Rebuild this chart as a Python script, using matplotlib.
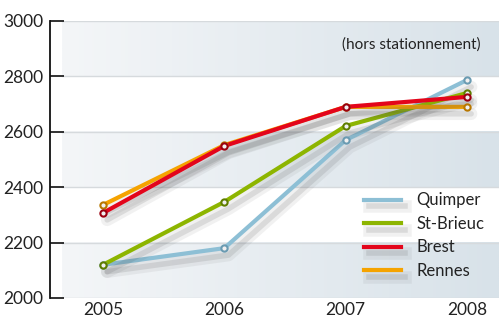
import matplotlib

matplotlib.use("Agg")
import matplotlib.pyplot as plt
import matplotlib.patheffects as pe
import numpy as np
from matplotlib.colors import LinearSegmentedColormap

years = [2005, 2006, 2007, 2008]
quimper = [2120, 2180, 2570, 2787]
st_brieuc = [2120, 2347, 2621, 2740]
brest = [2307, 2549, 2690, 2726]
rennes = [2336, 2552, 2690, 2690]
yticks = [2000, 2200, 2400, 2600, 2800, 3000]
note = "(hors stationnement)"

plt.rcParams["font.family"] = ["Lato", "DejaVu Sans"]

fig = plt.figure(figsize=(4.99, 3.22), dpi=100)
ax = fig.add_axes([50 / 499, 24 / 322, 449 / 499, 277 / 322])
ax.set_xlim(2004.563, 2008.264)
ax.set_ylim(2000, 3000)

# shaded bands with a soft left-to-right gradient
band_cmap = LinearSegmentedColormap.from_list("band", ["#f4f6f8", "#d8e2e9"])
grad = np.linspace(0, 1, 256).reshape(1, -1)
x0 = 2004.563 + 12 / 121.3
for lo in (2000, 2400, 2800):
    ax.imshow(grad, extent=(x0, 2008.264, lo, lo + 200), aspect="auto",
              cmap=band_cmap, zorder=0)
for y in yticks:
    ax.plot([x0, 2008.264], [y, y], color="#d6dadd", lw=1.0, zorder=1)

series = [
    ("Quimper", quimper, "#8dbfd5", "#6a9bb2"),
    ("St-Brieuc", st_brieuc, "#8db500", "#5f7d00"),
    ("Rennes", rennes, "#f5a300", "#b87700"),
    ("Brest", brest, "#e3051b", "#9b0010"),
]
shadow = [
    pe.SimpleLineShadow(offset=(3, -5), shadow_color="#555555", alpha=0.08, linewidth=9),
    pe.SimpleLineShadow(offset=(3, -5), shadow_color="#555555", alpha=0.14, linewidth=4),
    pe.Normal(),
]
colors = {}
for i, (name, vals, col, dark) in enumerate(series):
    ax.plot(years, vals, color=col, lw=3, zorder=3 + i * 0.1, path_effects=shadow,
            solid_capstyle="round")
    ax.plot(years, vals, ls="none", zorder=5 + i * 0.1, marker="o", markersize=4.5,
            markerfacecolor="#f0f0f0", markeredgecolor=dark, markeredgewidth=1.5)
    colors[name] = col

leg_names = ["Quimper", "St-Brieuc", "Brest", "Rennes"]
leg_handles = [ax.plot([], [], color=colors[n], lw=3, path_effects=shadow)[0] for n in leg_names]
leg = ax.legend(leg_handles, leg_names,
                loc="lower right", bbox_to_anchor=(1.0, 0.015), frameon=False,
                fontsize=12, handlelength=2.2, handletextpad=0.9, labelspacing=0.45)
for t in leg.get_texts():
    t.set_color("#222222")

ax.text(0.96, 0.915, note, transform=ax.transAxes, ha="right", va="center",
        fontsize=11, color="#222222")

for s in ["top", "right", "bottom"]:
    ax.spines[s].set_visible(False)
ax.spines["left"].set_linewidth(1.3)
ax.spines["left"].set_color("#111111")
ax.set_yticks(yticks)
ax.tick_params(axis="y", direction="in", length=10, width=1.3, labelsize=12.5,
               colors="#222222", pad=5)
ax.set_xticks(years)
ax.tick_params(axis="x", length=0, labelsize=12.5, colors="#222222", pad=3)

fig.savefig("out.png", dpi=100)
